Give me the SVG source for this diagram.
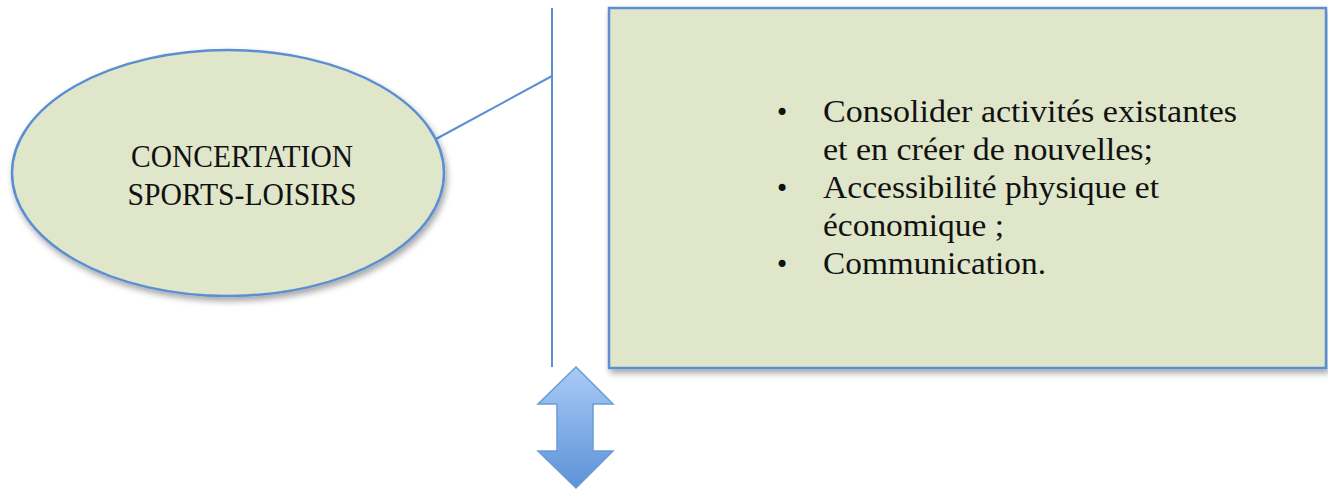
<svg xmlns="http://www.w3.org/2000/svg" width="1328" height="496" viewBox="0 0 1328 496">
<style>
.shape{fill:#dfe6ca;stroke:#5b8fd2;stroke-width:2.5}
.conn{stroke:#5b8fd2;stroke-width:2;fill:none}
.t{font-family:"Liberation Serif","DejaVu Serif",serif;font-size:32px;fill:#111}
.b{font-family:"DejaVu Sans",sans-serif;font-size:24px;fill:#111}
</style>
<defs>
<filter id="sh" x="-10%" y="-10%" width="130%" height="130%">
<feDropShadow dx="2" dy="4" stdDeviation="3" flood-color="#000" flood-opacity="0.35"/>
</filter>
<linearGradient id="ag" x1="0" y1="0" x2="0" y2="1">
<stop offset="0" stop-color="#aacbf6"/>
<stop offset="1" stop-color="#5b92d8"/>
</linearGradient>
</defs>
<g id="connectors">
<line class="conn" x1="552" y1="8" x2="552" y2="367"/>
<line class="conn" x1="552" y1="76" x2="436" y2="139"/>
</g>
<g id="ellipse-node">
<ellipse class="shape" cx="228" cy="173" rx="216" ry="123" filter="url(#sh)"/>
<text class="t" x="242" y="167" text-anchor="middle" textLength="222" lengthAdjust="spacingAndGlyphs">CONCERTATION</text>
<text class="t" x="242" y="205" text-anchor="middle" textLength="229" lengthAdjust="spacingAndGlyphs">SPORTS-LOISIRS</text>
</g>
<g id="box-node">
<rect class="shape" x="609" y="8" width="717" height="360" filter="url(#sh)"/>
<text class="b" x="775" y="121">•</text>
<text class="t" x="823" y="122" textLength="414" lengthAdjust="spacingAndGlyphs">Consolider activités existantes</text>
<text class="t" x="823" y="160" textLength="330" lengthAdjust="spacingAndGlyphs">et en créer de nouvelles;</text>
<text class="b" x="775" y="197">•</text>
<text class="t" x="823" y="198" textLength="336" lengthAdjust="spacingAndGlyphs">Accessibilité physique et</text>
<text class="t" x="823" y="236" textLength="181" lengthAdjust="spacingAndGlyphs">économique ;</text>
<text class="b" x="775" y="273">•</text>
<text class="t" x="823" y="274" textLength="223" lengthAdjust="spacingAndGlyphs">Communication.</text>
</g>
<g id="double-arrow">
<polygon points="576,367 613,404 593,404 593,451 613,451 576,488 538,451 557,451 557,404 538,404" fill="url(#ag)" stroke="#6a9bd8" stroke-width="1.5"/>
</g>
</svg>
